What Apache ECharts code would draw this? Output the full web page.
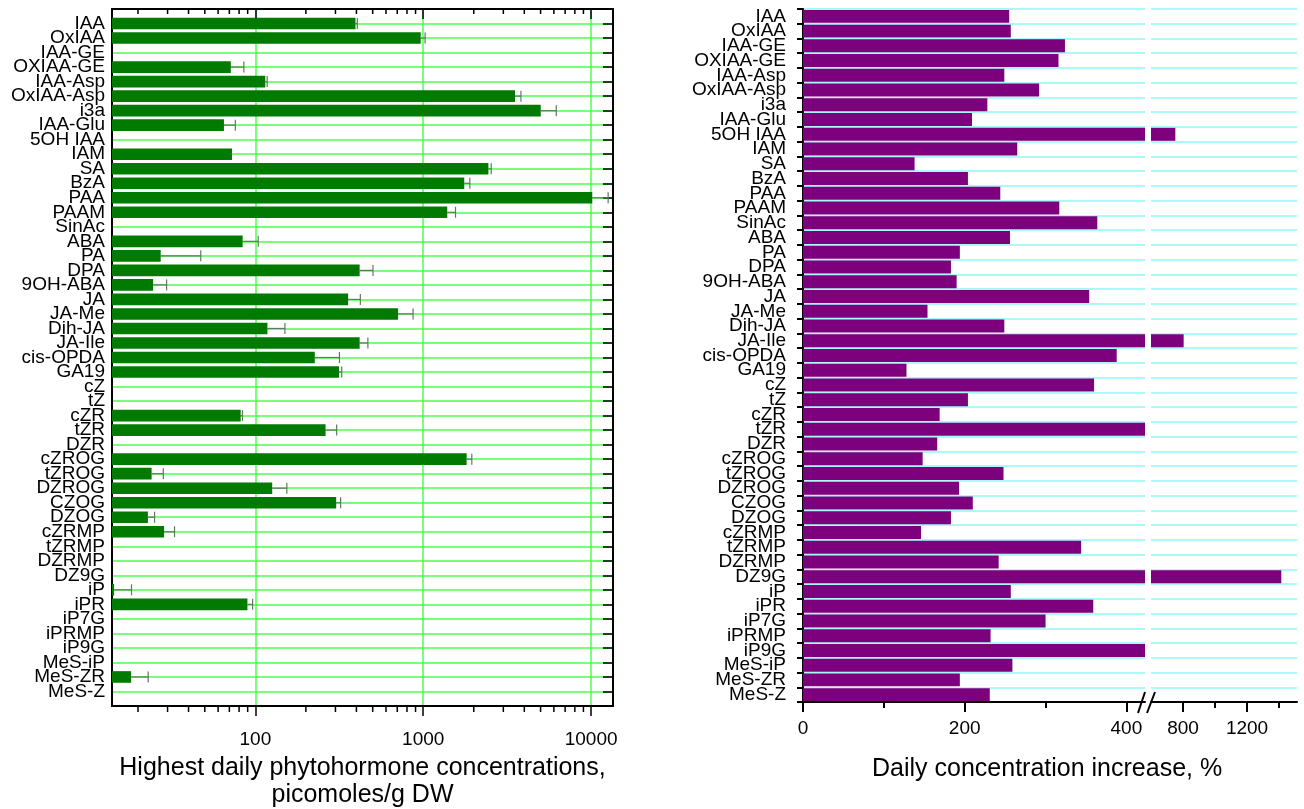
<!DOCTYPE html>
<html>
<head>
    <meta charset="utf-8">
    <title>Phytohormones</title>
    <script src="https://cdn.jsdelivr.net/npm/echarts@6.0.0/dist/echarts.min.js"></script>
    <style>
      body { padding: 0; margin: 0; background: #fff; }
      #main { width: 1304px; height: 809px; }
    </style>
</head>
<body>
  <div id="main"></div>
  <script type="text/javascript">
    // compounds, top to bottom
    const categories = ['IAA', 'OxIAA', 'IAA-GE', 'OXIAA-GE', 'IAA-Asp', 'OxIAA-Asp', 'i3a', 'IAA-Glu', '5OH IAA', 'IAM',
      'SA', 'BzA', 'PAA', 'PAAM', 'SinAc', 'ABA', 'PA', 'DPA', '9OH-ABA', 'JA', 'JA-Me', 'Dih-JA', 'JA-Ile', 'cis-OPDA',
      'GA19', 'cZ', 'tZ', 'cZR', 'tZR', 'DZR', 'cZROG', 'tZROG', 'DZROG', 'CZOG', 'DZOG', 'cZRMP', 'tZRMP', 'DZRMP',
      'DZ9G', 'iP', 'iPR', 'iP7G', 'iPRMP', 'iP9G', 'MeS-iP', 'MeS-ZR', 'MeS-Z']

    // highest daily concentration, picomoles/g DW (null = not detected)
    const highestConc = [395, 966, null, 71.4, 114.6, 3520, 5010, 65, null, 72.6,
      2445, 1755, 10160, 1390, null, 84, 27.3, 418, 24.6, 357, 708, 118, 418, 226,
      315, null, null, 81.8, 262, null, 1814, 24.1, 126, 303, 22.9, 28.6, null, null,
      null, 14.4, 89.7, null, null, null, null, 18.2, null]
    const highestErr = [10, 60, null, 14, 3, 300, 1190, 11, null, null,
      96, 140, 2470, 167, null, 20, 20, 84, 5, 65, 162, 32, 50, 91,
      12, null, null, 2, 43, null, 133, 4.2, 28, 19, 2.2, 4.4, null, null,
      null, 3.9, 6.6, null, null, null, null, 4.8, null]

    // daily concentration increase, %
    const increasePct = [255, 257, 324, 316, 249, 292, 228, 209, 752, 265,
      138, 204, 244, 317, 364, 256, 194, 183, 190, 354, 154, 249, 804, 388,
      128, 360, 204, 169, 430, 166, 148, 248, 193, 210, 183, 146, 344, 242,
      1414, 257, 359, 300, 232, 430, 259, 194, 231]

    const logMinorTicks = [20, 30, 40, 50, 60, 70, 80, 90, 200, 300, 400, 500, 600, 700, 800, 900,
      2000, 3000, 4000, 5000, 6000, 7000, 8000, 9000]
    const pctMajorA = [0, 200, 400]
    const pctMinorA = [100, 300]
    const pctMajorB = [800, 1200]
    const pctMinorB = [1000, 1400]

    const font = 'Liberation Sans'
    const gridGreen = '#4cff4c'
    const gridCyan = '#8ff8f8'
    const errColor = '#5b7b5b'
    const plain = v => String(v)

    const padCats = [''].concat(categories, [''])
    const padConc = [null].concat(highestConc, [null])
    const errData = []
    highestConc.forEach((v, i) => {
      if (v != null && highestErr[i] != null) errData.push([v, v + highestErr[i], i + 1])
    })

    const renderErr = function (params, api) {
      const y = api.value(2)
      const a = api.coord([api.value(0), y])
      const b = api.coord([api.value(1), y])
      const st = { stroke: errColor, lineWidth: 1.2 }
      return { type: 'group', children: [
        { type: 'line', shape: { x1: a[0], y1: a[1], x2: b[0], y2: b[1] }, style: st },
        { type: 'line', shape: { x1: b[0], y1: b[1] - 5.5, x2: b[0], y2: b[1] + 5.5 }, style: st }
      ] }
    }
    const renderMinor = function (params, api) {
      const x = api.coord([api.value(0), 1])[0]
      const cs = params.coordSys
      const st = { stroke: '#000', lineWidth: 1.5 }
      return { type: 'group', children: [
        { type: 'line', shape: { x1: x, y1: cs.y, x2: x, y2: cs.y + 5 }, style: st },
        { type: 'line', shape: { x1: x, y1: cs.y + cs.height, x2: x, y2: cs.y + cs.height + 6 }, style: st }
      ] }
    }
    const renderBreak = function (params) {
      const cs = params.coordSys
      const x0 = cs.x + cs.width
      const yb = cs.y + cs.height
      const st = { stroke: '#000', lineWidth: 2 }
      return { type: 'group', children: [
        { type: 'line', shape: { x1: x0 - 7, y1: yb + 11, x2: x0, y2: yb - 10 }, style: st },
        { type: 'line', shape: { x1: x0 + 2, y1: yb + 11, x2: x0 + 10, y2: yb - 10 }, style: st }
      ] }
    }

    const lbl = { fontFamily: font, fontSize: 19, color: '#000' }
    const blackLine = { show: true, lineStyle: { color: '#000', width: 2 } }

    var myChart = echarts.init(document.getElementById('main'))
    option = {
      animation: false,
      backgroundColor: '#fff',
      title: {
        text: 'Daily concentration increase, %',
        left: 872, top: 757, padding: 0,
        textStyle: { fontFamily: font, fontSize: 25, fontWeight: 'normal', color: '#000' }
      },
      grid: [
        { left: 112, top: 9, width: 501, height: 697, outerBoundsMode: 'none', containLabel: false },
        { left: 803, top: 9, width: 342, height: 693, outerBoundsMode: 'none', containLabel: false },
        { left: 1151, top: 9, width: 146, height: 693, outerBoundsMode: 'none', containLabel: false }
      ],
      xAxis: [
        {
          gridIndex: 0, type: 'log', min: 14, max: 13500, position: 'bottom',
          axisLine: blackLine,
          axisTick: { show: true, length: 10, lineStyle: { color: '#000', width: 1.5 } },
          axisLabel: Object.assign({ margin: 24, showMinLabel: false, showMaxLabel: false, formatter: plain }, lbl),
          splitLine: { show: true, lineStyle: { color: gridGreen, width: 1.5 } },
          name: 'Highest daily phytohormone concentrations,\npicomoles/g DW',
          nameLocation: 'middle', nameGap: 49,
          nameTextStyle: { fontFamily: font, fontSize: 25, color: '#000', lineHeight: 27 }
        },
        {
          gridIndex: 0, type: 'log', min: 14, max: 13500, position: 'top',
          axisLine: blackLine,
          axisTick: { show: true, inside: true, length: 10, lineStyle: { color: '#000', width: 1.5 } },
          axisLabel: { show: false }, splitLine: { show: false }
        },
        {
          gridIndex: 1, type: 'value', min: 0, max: 423, position: 'bottom',
          axisLine: blackLine,
          axisTick: { show: true, length: 10, customValues: pctMajorA, lineStyle: { color: '#000', width: 2 } },
          axisLabel: Object.assign({ margin: 17, customValues: pctMajorA, formatter: plain }, lbl),
          splitLine: { show: false }
        },
        {
          gridIndex: 2, type: 'value', min: 600, max: 1512, position: 'bottom',
          axisLine: blackLine,
          axisTick: { show: true, length: 10, customValues: pctMajorB, lineStyle: { color: '#000', width: 2 } },
          axisLabel: Object.assign({ margin: 17, customValues: pctMajorB, formatter: plain }, lbl),
          splitLine: { show: false }
        },
        {
          gridIndex: 1, type: 'value', min: 0, max: 423, position: 'bottom',
          axisLine: { show: false },
          axisTick: { show: true, length: 6, customValues: pctMinorA, lineStyle: { color: '#000', width: 2 } },
          axisLabel: { show: false }, splitLine: { show: false }
        },
        {
          gridIndex: 2, type: 'value', min: 600, max: 1512, position: 'bottom',
          axisLine: { show: false },
          axisTick: { show: true, length: 6, customValues: pctMinorB, lineStyle: { color: '#000', width: 2 } },
          axisLabel: { show: false }, splitLine: { show: false }
        }
      ],
      yAxis: [
        {
          gridIndex: 0, type: 'category', data: padCats, inverse: true, boundaryGap: false,
          axisLine: blackLine, axisTick: { show: false },
          axisLabel: Object.assign({ interval: 0, margin: 7 }, lbl),
          splitLine: { show: true, interval: 0, lineStyle: { color: gridGreen, width: 1.5 } }
        },
        {
          gridIndex: 0, type: 'category', data: padCats, inverse: true, boundaryGap: false, position: 'right',
          axisLine: blackLine,
          axisTick: { show: true, inside: true, interval: 0, length: 10, lineStyle: { color: '#000', width: 1.5 } },
          axisLabel: { show: false }, splitLine: { show: false }
        },
        {
          gridIndex: 1, type: 'category', data: categories, inverse: true,
          axisLine: blackLine,
          axisTick: { show: true, interval: 0, length: 5, lineStyle: { color: '#000', width: 2 } },
          axisLabel: Object.assign({ interval: 0, margin: 17 }, lbl),
          splitLine: { show: true, interval: 0, lineStyle: { color: gridCyan, width: 1.5 } }
        },
        {
          gridIndex: 1, type: 'category', data: categories, inverse: true,
          axisLine: { show: false },
          axisTick: { show: true, inside: true, interval: 0, length: 6, lineStyle: { color: '#000', width: 2 } },
          axisLabel: { show: false }, splitLine: { show: false }
        },
        {
          gridIndex: 2, type: 'category', data: categories, inverse: true,
          axisLine: { show: false }, axisTick: { show: false }, axisLabel: { show: false },
          splitLine: { show: true, interval: 0, lineStyle: { color: gridCyan, width: 1.5 } }
        }
      ],
      series: [
        {
          type: 'bar', xAxisIndex: 0, yAxisIndex: 0, data: padConc,
          barCategoryGap: '20%', itemStyle: { color: '#007a00' }
        },
        {
          type: 'custom', xAxisIndex: 0, yAxisIndex: 0, data: errData,
          encode: { x: [0, 1], y: 2 }, renderItem: renderErr, z: 5
        },
        {
          type: 'custom', xAxisIndex: 0, yAxisIndex: 0, data: logMinorTicks.map(v => [v, 1]),
          encode: { x: 0, y: 1 }, renderItem: renderMinor, clip: false, silent: true, z: 6
        },
        {
          type: 'bar', xAxisIndex: 2, yAxisIndex: 2, data: increasePct,
          barCategoryGap: '12%', itemStyle: { color: '#7d007d' }
        },
        {
          type: 'bar', xAxisIndex: 3, yAxisIndex: 4, data: increasePct,
          barCategoryGap: '12%', itemStyle: { color: '#7d007d' }
        },
        {
          type: 'custom', xAxisIndex: 2, yAxisIndex: 2, data: [[0, 0]],
          encode: { x: 0, y: 1 }, renderItem: renderBreak, clip: false, silent: true, z: 6
        }
      ]
    }
    myChart.setOption(option)
  </script>
</body>
</html>
